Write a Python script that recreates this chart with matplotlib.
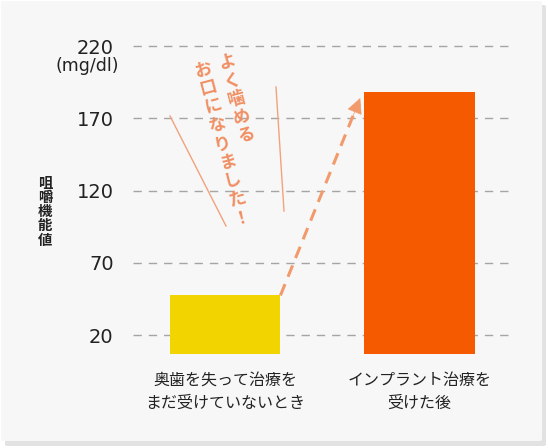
import numpy as np
import matplotlib
matplotlib.use('Agg')
import matplotlib.pyplot as plt
from matplotlib.patches import FancyBboxPatch
from matplotlib.lines import Line2D

plt.rcParams['font.family'] = ['Noto Sans CJK JP', 'DejaVu Sans']

# data
categories = ['奥歯を失って治療を\nまだ受けていないとき', 'インプラント治療を\n受けた後']
values = [47.5, 188]
bar_colors = ['#f2d500', '#f55a00']
yticks = [20, 70, 120, 170, 220]
ylabel = '咀嚼機能値'
unit = '(mg/dl)'
callout_cols = ['よく噛める', 'お口になりました！']

W, H = 548, 448
fig = plt.figure(figsize=(W / 100, H / 100), dpi=100)
fig.patch.set_facecolor('white')

def fx(px):
    return px / W

def fy(py):
    return 1 - py / H

# panel with soft shadow
shadow = FancyBboxPatch((fx(5), fy(446)), fx(541), fy(5) - fy(446), boxstyle='round,pad=0,rounding_size=0.004',
                        transform=fig.transFigure, facecolor='#e2e2e2', edgecolor='none', zorder=-2)
fig.patches.append(shadow)
panel = FancyBboxPatch((fx(1), fy(441)), fx(541), fy(1) - fy(441), boxstyle='round,pad=0,rounding_size=0.004',
                       transform=fig.transFigure, facecolor='#f7f7f7', edgecolor='none', zorder=-1)
fig.patches.append(panel)

ax = fig.add_axes([fx(133), fy(354), fx(510) - fx(133), fy(46) - fy(354)])
ax.set_zorder(1)
ax.set_facecolor('none')
for s in ax.spines.values():
    s.set_visible(False)

x = [0, 1]
ax.set_xlim(-0.473, 1.465)
ax.set_ylim(7, 220)
for t in yticks:
    ax.axhline(t, color='#a5a5a5', lw=1, ls=(0, (6, 5)), zorder=1, clip_on=False)
ax.bar(x, values, width=0.57, color=bar_colors, zorder=2)

ax.set_yticks(yticks)
ax.set_yticklabels([str(t) for t in yticks], fontsize=14, color='#222222', family='DejaVu Sans')
ax.tick_params(axis='y', length=0, pad=14)
ax.set_xticks(x)
ax.set_xticklabels(categories, fontsize=11.5, color='#222222', linespacing=1.45)
ax.tick_params(axis='x', length=0, pad=13)

fig.text(fx(119), fy(66), unit, ha='right', va='center', fontsize=12.5, color='#222222',
         family='DejaVu Sans', zorder=2)

# vertical y label, one character per row
for i, ch in enumerate(ylabel):
    fig.text(fx(45), fy(183.5 + i * 14.3), ch, ha='center', va='center', fontsize=10.4,
             fontweight='bold', color='#222222', zorder=2)

# dashed arrow from first bar to second bar
arrow_c = '#f29a6c'
x0, y0 = x[0] + 0.285, values[0]
x1, y1 = x[1] - 0.305, values[1] - 4
ax.plot([x0, x0 + (x1 - x0) * 0.93], [y0, y0 + (y1 - y0) * 0.93], color=arrow_c, lw=2.2,
        ls=(0, (4, 2.6)), zorder=3, clip_on=False)
ax.annotate('', xy=(x1, y1), xytext=(x0 + (x1 - x0) * 0.9, y0 + (y1 - y0) * 0.9),
            arrowprops=dict(arrowstyle='-|>,head_length=1.0,head_width=0.5', color=arrow_c,
                            lw=0.5, shrinkA=0, shrinkB=0), zorder=3, annotation_clip=False)

# tilted vertical callout text
sal = '#f08f62'
ang = np.deg2rad(15)
step = 19.0
starts = [(227, 62), (203, 70)]
for col, (sx, sy) in zip(callout_cols, starts):
    for i, ch in enumerate(col):
        px = sx + i * step * np.sin(ang)
        py = sy + i * step * np.cos(ang)
        fig.text(fx(px), fy(py), ch, rotation=15, rotation_mode='anchor', ha='center', va='center',
                 fontsize=12.5, fontweight='bold', color=sal, zorder=2)
fig.lines.append(Line2D([fx(170), fx(226)], [fy(116), fy(226)], transform=fig.transFigure,
                        color='#f2a27c', lw=1, zorder=2))
fig.lines.append(Line2D([fx(276), fx(284)], [fy(87), fy(211)], transform=fig.transFigure,
                        color='#f2a27c', lw=1, zorder=2))

fig.savefig('out.png', dpi=100, facecolor=fig.get_facecolor())
